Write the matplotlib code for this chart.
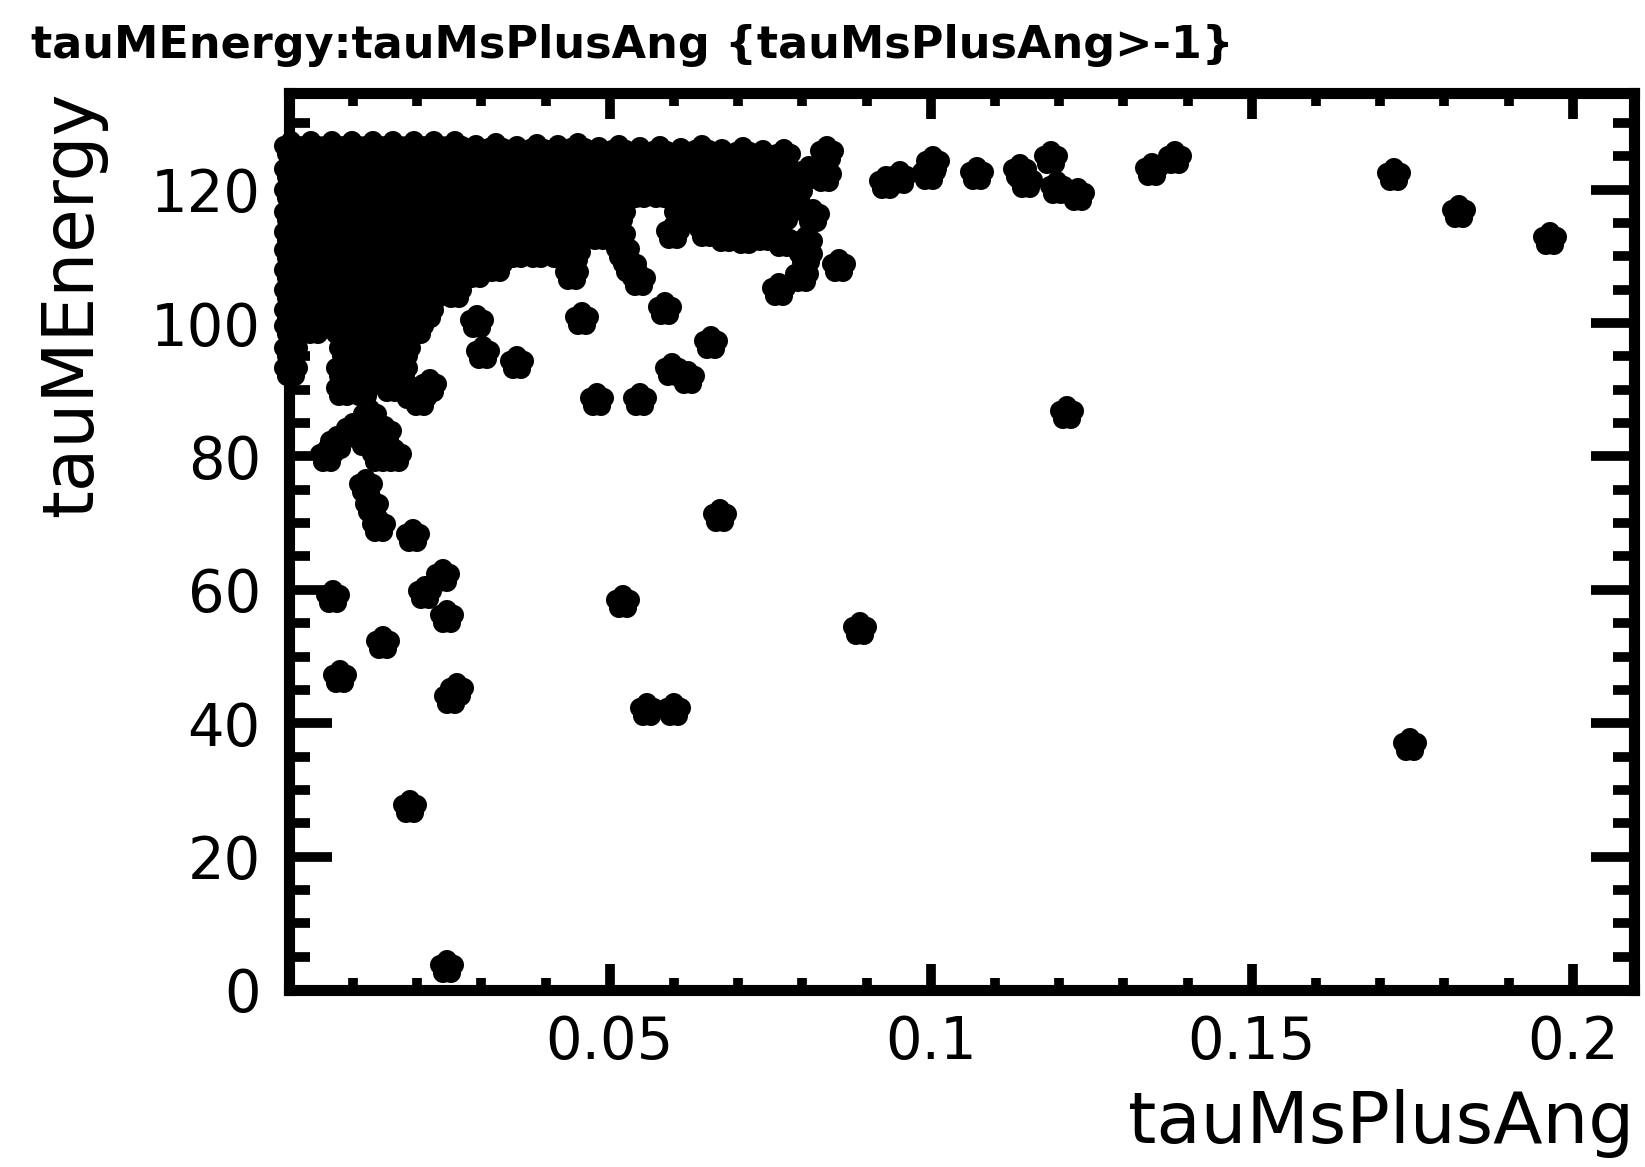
import matplotlib
matplotlib.use("Agg")
import matplotlib.pyplot as plt
from matplotlib.markers import MarkerStyle
from matplotlib.ticker import MultipleLocator, FixedLocator

plt.rcParams['font.family'] = ['DejaVu Sans']

title = "tauMEnergy:tauMsPlusAng {tauMsPlusAng>-1}"
x_label = "tauMsPlusAng"
y_label = "tauMEnergy"
x_ticks = [0.05, 0.1, 0.15, 0.2]
x_tick_labels = ["0.05", "0.1", "0.15", "0.2"]
y_ticks = [0, 20, 40, 60, 80, 100, 120]
y_tick_labels = ["0", "20", "40", "60", "80", "100", "120"]

# dense core
core_x = [
    0.0003, 0.0035, 0.0067, 0.0099, 0.0131, 0.0163, 0.0195, 0.0227, 0.0259,
    0.0291, 0.0323, 0.0355, 0.0387, 0.0419, 0.0451, 0.0483, 0.0515, 0.0547,
    0.0579, 0.0611, 0.0643, 0.0675, 0.0707, 0.0739, 0.0771, 0.0838,
    0.0003, 0.0035, 0.0067, 0.0099, 0.0131, 0.0163, 0.0195, 0.0227, 0.0259,
    0.0291, 0.0323, 0.0355, 0.0387, 0.0419, 0.0451, 0.0483, 0.0515, 0.0547,
    0.0579, 0.0611, 0.0643, 0.0675, 0.0707, 0.0739, 0.0771, 0.0810, 0.0835,
    0.0003, 0.0035, 0.0067, 0.0099, 0.0131, 0.0163, 0.0195, 0.0227, 0.0259,
    0.0291, 0.0323, 0.0355, 0.0387, 0.0419, 0.0451, 0.0483, 0.0515, 0.0547,
    0.0579, 0.0611, 0.0643, 0.0675, 0.0707, 0.0739, 0.0771, 0.0790,
    0.0003, 0.0035, 0.0067, 0.0099, 0.0131, 0.0163, 0.0195, 0.0227, 0.0259,
    0.0291, 0.0323, 0.0355, 0.0387, 0.0419, 0.0451, 0.0483, 0.0515,
    0.0611, 0.0643, 0.0675, 0.0707, 0.0739, 0.0771, 0.0817,
    0.0003, 0.0035, 0.0067, 0.0099, 0.0131, 0.0163, 0.0195, 0.0227, 0.0259,
    0.0291, 0.0323, 0.0355, 0.0387, 0.0419, 0.0451, 0.0483, 0.0515, 0.0598,
    0.0650, 0.0680, 0.0710, 0.0740, 0.0770, 0.0805,
    0.0003, 0.0035, 0.0067, 0.0099, 0.0131, 0.0163, 0.0195, 0.0227, 0.0259,
    0.0291, 0.0323, 0.0355, 0.0387, 0.0419, 0.0445, 0.0520, 0.0805,
    0.0003, 0.0035, 0.0067, 0.0099, 0.0131, 0.0163, 0.0195, 0.0227, 0.0259,
    0.0291, 0.0323, 0.0441, 0.0532, 0.0545, 0.0800, 0.0857, 0.0763,
    0.0003, 0.0035, 0.0067, 0.0099, 0.0131, 0.0163, 0.0195, 0.0227, 0.0259,
    0.0003, 0.0035, 0.0067, 0.0099, 0.0131, 0.0163, 0.0195, 0.0215,
    0.0003, 0.0040, 0.0080, 0.0110, 0.0140, 0.0170, 0.0200,
    0.0003, 0.0090, 0.0120, 0.0150, 0.0180,
    0.0003, 0.0085, 0.0115, 0.0145, 0.0175, 0.0220,
    0.0085, 0.0115, 0.0160, 0.0190, 0.0205,
    0.0127, 0.0100, 0.0150, 0.0120, 0.0075, 0.0060, 0.0140, 0.0165,
]
core_y = [
    126.2, 126.2, 126.2, 126.2, 126.2, 126.2, 126.2, 126.2, 126.2,
    125.6, 125.9, 125.5, 125.8, 125.6, 125.9, 125.4, 125.7, 125.3,
    125.5, 125.2, 125.6, 125.0, 125.3, 124.9, 125.1, 125.5,
    122.8, 122.8, 122.8, 122.8, 122.8, 122.8, 122.8, 122.8, 122.8,
    122.8, 122.8, 122.8, 122.8, 122.8, 122.8, 122.8, 122.8, 122.8,
    122.8, 122.8, 122.8, 122.8, 122.8, 122.8, 122.8, 122.5, 122.0,
    119.6, 119.6, 119.6, 119.6, 119.6, 119.6, 119.6, 119.6, 119.6,
    119.6, 119.6, 119.6, 119.6, 119.6, 119.6, 119.6, 119.6, 119.6,
    119.6, 119.6, 119.6, 119.6, 119.6, 119.6, 119.6, 119.5,
    116.4, 116.4, 116.4, 116.4, 116.4, 116.4, 116.4, 116.4, 116.4,
    116.4, 116.4, 116.4, 116.4, 116.4, 116.4, 116.4, 116.4,
    116.4, 116.4, 116.4, 116.4, 116.4, 116.4, 116.0,
    113.4, 113.4, 113.4, 113.4, 113.4, 113.4, 113.4, 113.4, 113.4,
    113.4, 113.4, 113.4, 113.4, 113.4, 113.4, 113.4, 113.0, 113.5,
    113.8, 113.0, 112.8, 113.2, 112.3, 112.0,
    110.6, 110.6, 110.6, 110.6, 110.6, 110.6, 110.6, 110.6, 110.6,
    110.6, 110.6, 110.6, 110.6, 110.6, 110.3, 110.8, 110.0,
    107.6, 107.6, 107.6, 107.6, 107.6, 107.6, 107.6, 107.6, 107.6,
    107.6, 108.6, 107.3, 108.5, 106.5, 107.0, 108.6, 105.0,
    104.6, 104.6, 104.6, 104.6, 104.6, 104.6, 104.6, 104.6, 104.6,
    101.6, 101.6, 101.6, 101.6, 101.6, 101.6, 101.6, 101.6,
    99.2, 99.2, 99.2, 99.2, 99.2, 99.2, 99.2,
    96.0, 96.0, 96.0, 96.0, 96.0,
    93.0, 93.0, 93.0, 93.0, 93.0, 90.5,
    90.0, 90.0, 90.5, 89.5, 88.5,
    86.0, 84.0, 83.5, 82.5, 82.0, 80.0, 80.0, 80.0,
]

# scattered points
sparse_x = [
    0.0121, 0.0129, 0.0140, 0.0194,
    0.0293, 0.0303, 0.0355, 0.0457, 0.0586, 0.0597, 0.0622, 0.0657,
    0.0480, 0.0547,
    0.0069, 0.0147, 0.0080, 0.0213, 0.0241, 0.0246, 0.0253, 0.0262,
    0.0189, 0.0246, 0.0521, 0.0558, 0.0600, 0.0672, 0.0890, 0.1212, 0.1747,
    0.0931, 0.0952, 0.0997, 0.1004, 0.1072, 0.1139, 0.1148, 0.1187,
    0.1196, 0.1230, 0.1344, 0.1381, 0.1721, 0.1822, 0.1964,
]
sparse_y = [
    75.5, 72.5, 69.5, 68.0,
    100.1, 95.5, 94.0, 100.6, 102.1, 93.0, 91.8, 97.0,
    88.5, 88.5,
    59.0, 52.0, 47.0, 59.5, 62.0, 56.0, 43.8, 45.0,
    27.5, 3.5, 58.2, 42.0, 42.0, 71.0, 54.2, 86.5, 36.7,
    121.0, 121.8, 122.4, 124.0, 122.3, 122.8, 121.2, 124.7,
    120.3, 119.2, 123.0, 124.7, 122.2, 116.6, 112.6,
]

fig = plt.figure(figsize=(16.45, 11.67), dpi=100)
ax = fig.add_axes([0.1755, 0.1517, 0.8181, 0.7686])

star = MarkerStyle('*', joinstyle='round')
for xs, ys in ((core_x, core_y), (sparse_x, sparse_y)):
    ax.plot(xs, ys, ls='none', marker=star, ms=10, mew=14.5,
            mfc='black', mec='black', clip_on=False)

ax.set_xlim(0, 0.2096)
ax.set_ylim(0, 134.5)

ax.xaxis.set_major_locator(FixedLocator(x_ticks))
ax.set_xticklabels(x_tick_labels)
ax.xaxis.set_minor_locator(MultipleLocator(0.01))
ax.yaxis.set_major_locator(FixedLocator(y_ticks))
ax.set_yticklabels(y_tick_labels)
ax.yaxis.set_minor_locator(MultipleLocator(5))

for s in ax.spines.values():
    s.set_linewidth(8)
    s.set_color('black')
    s.set_zorder(5)

ax.tick_params(which='both', direction='in', top=True, right=True, width=7, color='black')
ax.tick_params(axis='x', which='major', length=19, pad=17, labelsize=41.5)
ax.tick_params(axis='x', which='minor', length=9)
ax.tick_params(axis='y', which='major', length=31, pad=20, labelsize=41.5)
ax.tick_params(axis='y', which='minor', length=15)

fig.text(0.0191, 0.9506, title, ha='left', va='baseline', fontsize=32, fontweight='bold')
fig.text(0.9936, 0.0206, x_label, ha='right', va='baseline', fontsize=52)
fig.text(0.0559, 0.9212, y_label, ha='right', va='baseline', rotation=90,
         rotation_mode='anchor', fontsize=51)

fig.savefig("out.png", dpi=100)
